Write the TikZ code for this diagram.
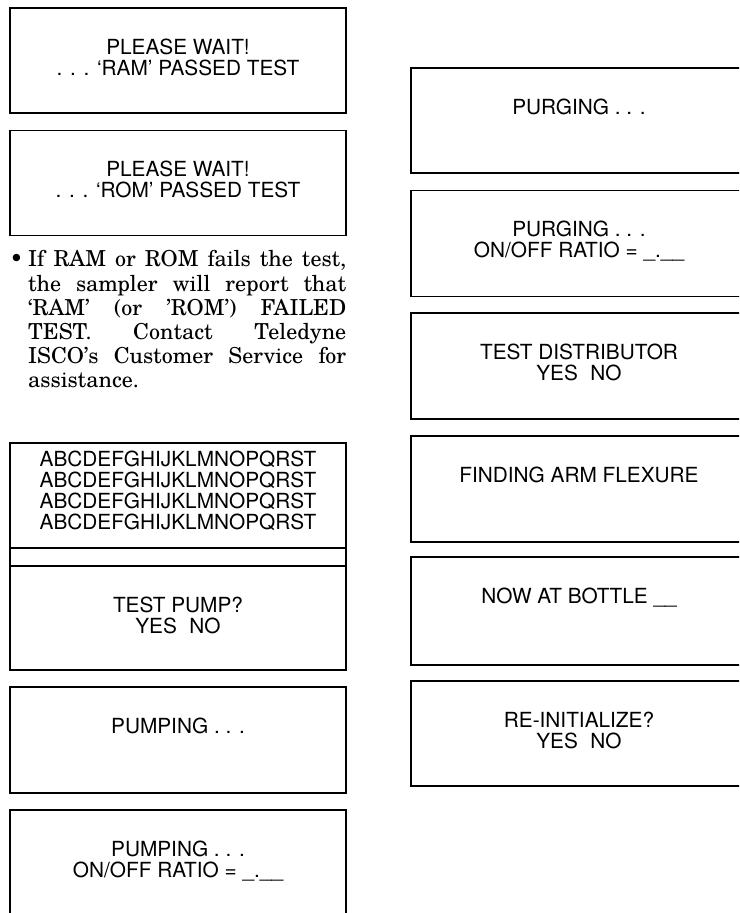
\documentclass[tikz,border=0pt]{standalone}
\usepackage{fontspec}
\newfontfamily\heros{TeX Gyre Heros}
\newfontfamily\schola{TeX Gyre Schola}
\usetikzlibrary{calc}
\newcommand{\capstrut}{\rule{0pt}{16pt}}
\begin{document}
\begin{tikzpicture}[x=1pt,y=-1pt,
  panel/.style={draw, line width=1.6pt, inner sep=0pt, minimum width=336pt, minimum height=105pt},
  disptext/.style={font=\heros\fontsize{20.8}{21}\selectfont, align=center, inner sep=0pt, anchor=north},
  notetext/.style={inner sep=0pt, anchor=north west}
  ]
\useasboundingbox (0,0) rectangle (739,913);
\clip (0,0) rectangle (739,913);

% left column
\node[panel] (ram) at (178,60.5) {};
\node[disptext] (ramtxt) at ($(ram.north)+(0,31)$) {\capstrut PLEASE WAIT!\\. . . ‘RAM’ PASSED TEST};

\node[panel] (rom) at (178,183) {};
\node[disptext] (romtxt) at ($(rom.north)+(0,31)$) {\capstrut PLEASE WAIT!\\. . . ‘ROM’ PASSED TEST};

\node[notetext] (note) at (28,249.7) {\parbox[t]{318pt}{\schola\fontsize{22}{24.2}\selectfont\hyphenpenalty=10000\rule{0pt}{17pt}\llap{\textbullet\hspace{5pt}}If RAM or ROM fails the test,\linebreak the sampler will report that\linebreak ‘RAM’ (or ’ROM’) FAILED\linebreak TEST. Contact Teledyne\linebreak ISCO’s Customer Service for\linebreak assistance.}};

\node[panel] (abc) at (178,495.5) {};
\node[disptext] (abctxt) at ($(abc.north)+(0,8)$) {\capstrut ABCDEFGHIJKLMNOPQRST\\ABCDEFGHIJKLMNOPQRST\\ABCDEFGHIJKLMNOPQRST\\ABCDEFGHIJKLMNOPQRST};
\node[panel, minimum height=18pt] (strip) at (178,557) {};
\node[panel, minimum height=104pt] (pump) at (178,618) {};
\node[disptext] (pumptxt) at ($(pump.north)+(0,31)$) {\capstrut TEST PUMP?\\YES\hspace{0.6em}NO};

\node[panel, minimum height=106pt] (pumping) at (178,740) {};
\node[disptext] (pumpingtxt) at ($(pumping.north)+(0,31)$) {\capstrut PUMPING . . .};

\node[panel] (ratio) at (178,862.5) {};
\node[disptext] (ratiotxt) at ($(ratio.north)+(0,31)$) {\capstrut PUMPING . . .\\ON/OFF RATIO = \_.\_\_};

% right column
\node[panel] (purge) at (579,120.5) {};
\node[disptext] (purgetxt) at ($(purge.north)+(0,31)$) {\capstrut PURGING . . .};

\node[panel, minimum height=106pt] (purgeratio) at (579,243.5) {};
\node[disptext] (purgeratiotxt) at ($(purgeratio.north)+(0,31)$) {\capstrut PURGING . . .\\ON/OFF RATIO = \_.\_\_};

\node[panel, minimum height=106pt] (dist) at (579,366) {};
\node[disptext] (disttxt) at ($(dist.north)+(0,31)$) {\capstrut TEST DISTRIBUTOR\\YES\hspace{0.6em}NO};

\node[panel, minimum height=106pt] (flex) at (579,489) {};
\node[disptext] (flextxt) at ($(flex.north)+(0,31)$) {\capstrut FINDING ARM FLEXURE};

\node[panel, minimum height=108pt] (bottle) at (579,611) {};
\node[disptext] (bottletxt) at ($(bottle.north)+(0,31)$) {\capstrut NOW AT BOTTLE \_\_};

\node[panel] (reinit) at (579,733.5) {};
\node[disptext] (reinittxt) at ($(reinit.north)+(0,31)$) {\capstrut RE-INITIALIZE?\\YES\hspace{0.6em}NO};
\end{tikzpicture}
\end{document}
